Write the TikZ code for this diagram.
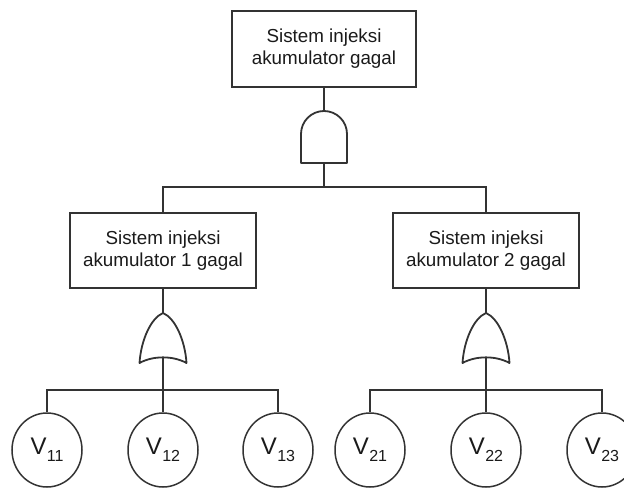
\documentclass[tikz,border=0pt]{standalone}
\usepackage{fontspec}
\setmainfont{Liberation Sans}
\usetikzlibrary{calc,shapes.geometric}
\definecolor{ln}{HTML}{333333}
\definecolor{tx}{HTML}{1A1A1A}
\tikzset{
  ev/.style={draw=ln, line width=1.5pt, rectangle, inner sep=0pt, align=center,
    text=tx, font=\fontsize{18.8}{22}\selectfont},
  basic/.style={draw=ln, line width=1.5pt, ellipse, inner sep=0pt,
    minimum width=70pt, minimum height=74pt, text=tx},
  wire/.style={draw=ln, line width=1.5pt},
  gate/.style={draw=ln, line width=1.8pt, line join=round}
}
\newcommand{\vlab}[1]{\fontsize{24}{24}\selectfont V\kern0.3pt\raisebox{-0.3em}{\fontsize{16}{16}\selectfont #1}}
\begin{document}
\begin{tikzpicture}[x=1pt,y=-1pt]
\useasboundingbox (0,0) rectangle (624,489);
% events
\node[ev, minimum width=184pt, minimum height=76pt] (top) at (324,49) {Sistem injeksi\\akumulator gagal};
\node[ev, minimum width=186pt, minimum height=75pt] (s1) at (163,250.5) {Sistem injeksi\\akumulator 1 gagal};
\node[ev, minimum width=186pt, minimum height=75pt] (s2) at (486,250.5) {Sistem injeksi\\akumulator 2 gagal};
% basic events
\node[basic] (v11) at (47,450) {\vlab{11}};
\node[basic] (v12) at (163,450) {\vlab{12}};
\node[basic] (v13) at (278,450) {\vlab{13}};
\node[basic] (v21) at (370,450) {\vlab{21}};
\node[basic] (v22) at (486,450) {\vlab{22}};
\node[basic] (v23) at (602,450) {\vlab{23}};
% AND gate
\coordinate (andtop) at (324,111);
\coordinate (andbot) at (324,163);
\draw[gate] (301,163) -- (301,134) .. controls (301,121.3) and (311.3,111) .. (324,111)
  .. controls (336.7,111) and (347,121.3) .. (347,134) -- (347,163) -- cycle;
% OR gates
\foreach \c/\nm in {163/or1, 486/or2}{
  \coordinate (\nm top) at (\c,313);
  \coordinate (\nm bot) at (\c,358);
  \draw[gate] (\c-23.5,363) .. controls (\c-22,340) and (\c-12,318) .. (\c,313)
    .. controls (\c+12,318) and (\c+22,340) .. (\c+23.5,363)
    .. controls (\c+10,355.5) and (\c-10,355.5) .. (\c-23.5,363) -- cycle;
}
% junctions
\coordinate (j0) at (324,187);
\coordinate (j1) at (163,390);
\coordinate (j2) at (486,390);
% wires
\draw[wire] (top.south) -- (andtop);
\draw[wire] (andbot) -- (j0);
\draw[wire] (j0) -| (s1.north);
\draw[wire] (j0) -| (s2.north);
\draw[wire] (s1.south) -- (or1top);
\draw[wire] (s2.south) -- (or2top);
\draw[wire] (or1bot) -- (j1);
\draw[wire] (or2bot) -- (j2);
\draw[wire] (j1) -| (v11.north);
\draw[wire] (j1) -- (v12.north);
\draw[wire] (j1) -| (v13.north);
\draw[wire] (j2) -| (v21.north);
\draw[wire] (j2) -- (v22.north);
\draw[wire] (j2) -| (v23.north);
\end{tikzpicture}
\end{document}
